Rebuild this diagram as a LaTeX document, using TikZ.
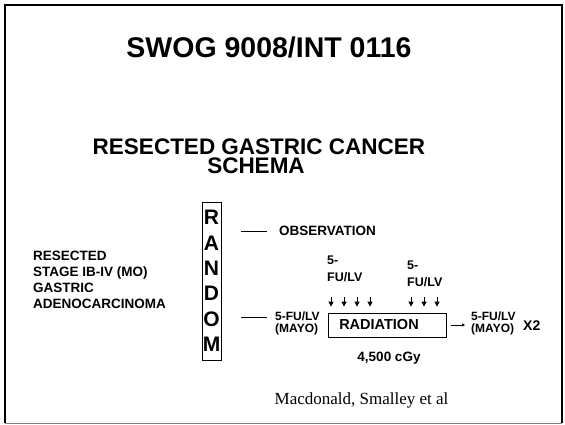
\documentclass[tikz,border=0pt]{standalone}
\usepackage{fontspec}
\setmainfont{Liberation Sans}[BoldFont={Liberation Sans Bold}]
\newfontfamily\footfont{Liberation Serif}
\usetikzlibrary{
    arrows.meta,
    positioning
}

\begin{document}
\begin{tikzpicture}[
        x=1pt, y=-1pt,
        >={Triangle[length=5pt,width=5pt]},
        txt/.style={
            inner sep=0pt,
            align=left,
            font=\bfseries\fontsize{12}{12}\selectfont
        },
        box/.style={
            draw,
            line width=0.8pt,
            inner sep=0pt
        },
        arm/.style={line width=0.8pt}
    ]
        \useasboundingbox (0,0) rectangle (565,424);
        \draw[line width=2pt] (4.5,423) |- (562,4.5) -- (562,423);
        \draw[gray, line width=1pt] (4.5,423) -- (562,423);

        \node[txt, anchor=base, font=\bfseries\fontsize{28.5}{32}\selectfont]
            (title) at (269,57) {SWOG 9008/INT 0116};
        \node[txt, anchor=base, font=\bfseries\fontsize{22.5}{17}\selectfont]
            (head1) at (259,154.5) {RESECTED GASTRIC CANCER};
        \node[txt, anchor=base, font=\bfseries\fontsize{22.5}{17}\selectfont]
            (head2) at (256,173) {SCHEMA};

        \node[txt, anchor=north west, font=\bfseries\fontsize{13.5}{15.9}\selectfont]
            (patients) at (33,251) {RESECTED\\STAGE IB-IV (MO)\\GASTRIC\\ADENOCARCINOMA};
        \node[box, align=center, minimum width=19pt, minimum height=158pt,
            font=\bfseries\fontsize{21}{25.4}\selectfont]
            (random) at (211.5,281) {R\\A\\N\\D\\O\\M};

        \node[txt, anchor=west, font=\bfseries\fontsize{13.5}{16}\selectfont]
            (obs) at (279,231) {OBSERVATION};
        \node[txt, anchor=north west] (mayoL) at (275,311.5) {5-FU/LV\\(MAYO)};
        \node[box, minimum width=118pt, minimum height=24pt,
            font=\bfseries\fontsize{14.5}{16}\selectfont]
            (rad) at (387,325) {RADIATION\hspace*{16pt}};
        \node[txt, anchor=north west] (mayoR) at (471,311.5) {5-FU/LV\\(MAYO)};
        \node[txt, anchor=base west, font=\bfseries\fontsize{14}{16}\selectfont]
            (cycles) at (523,330.7) {X2};
        \node[txt, anchor=north west, font=\bfseries\fontsize{12.5}{17}\selectfont]
            (chemoA) at (327,255.5) {5-\\FU/LV};
        \node[txt, anchor=north west, font=\bfseries\fontsize{12.5}{17}\selectfont]
            (chemoB) at (407,260.5) {5-\\FU/LV};
        \node[txt, anchor=base, font=\bfseries\fontsize{13.5}{16}\selectfont]
            (dose) at (389,361) {4,500 cGy};
        \node[anchor=base, font=\footfont\fontsize{17}{20}\selectfont]
            (cite) at (361.5,404) {Macdonald, Smalley et al};

        \coordinate (armO) at (241,231);
        \coordinate (armM) at (241,317);
        \draw[arm, shorten >=12pt] (armO) -- (obs.west);
        \draw[arm, shorten >=8pt] (armM) -- (armM -| mayoL.west);

        \foreach \x [count=\i] in {331,344,357,370,411,424,437} {
            \coordinate (drop\i) at (\x,297);
            \draw[->, arm, shorten >=6pt] (drop\i) -- (drop\i |- rad.north);
        }
        \draw[-{Triangle[length=3pt,width=3pt]}, arm, shorten <=5pt, shorten >=6pt]
            (rad.east) -- (rad.east -| mayoR.west);
    \end{tikzpicture}
\end{document}
